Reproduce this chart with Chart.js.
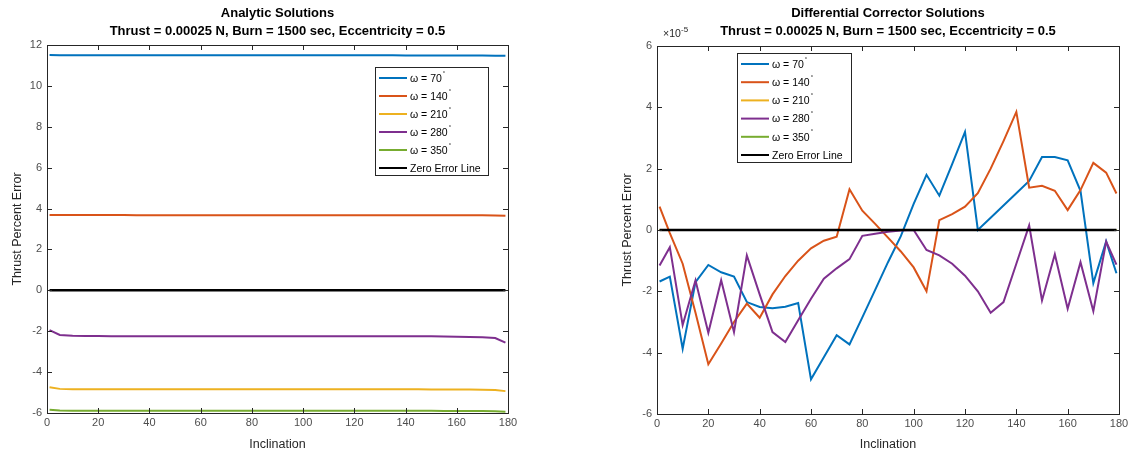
<!DOCTYPE html>
<html>
<head>
<meta charset="utf-8">
<title>Thrust Percent Error</title>
<script src="https://cdn.jsdelivr.net/npm/chart.js"></script>
<style>
  body { margin: 0; background: #fff; }
  #wrap { position: relative; width: 1135px; height: 454px; overflow: hidden; }
  canvas { position: absolute; top: 0; }
</style>
</head>
<body>
<div id="wrap">
  <canvas id="left" width="570" height="454" style="left:0"></canvas>
  <canvas id="right" width="565" height="454" style="left:570px"></canvas>
</div>
<script>
// inclination samples (deg)
const inclination = [1, 5, 10, 15, 20, 25, 30, 35, 40, 45, 50, 55, 60, 65, 70, 75, 80, 85, 90,
  95, 100, 105, 110, 115, 120, 125, 130, 135, 140, 145, 150, 155, 160, 165, 170, 175, 179];

const legendNames = ['\u03c9 = 70', '\u03c9 = 140', '\u03c9 = 210', '\u03c9 = 280', '\u03c9 = 350', 'Zero Error Line'];
const lineColors = ['#0072BD', '#D95319', '#EDB120', '#7E2F8E', '#77AC30', '#000000'];

// analytic solutions, thrust percent error
const analytic70 = [11.51, 11.50, 11.50, 11.50, 11.50, 11.50, 11.50, 11.50, 11.50, 11.50, 11.50, 11.50, 11.50,
  11.50, 11.50, 11.50, 11.50, 11.50, 11.50, 11.50, 11.50, 11.50, 11.50, 11.50, 11.50, 11.50, 11.50, 11.50,
  11.49, 11.49, 11.49, 11.49, 11.49, 11.49, 11.49, 11.48, 11.47];
const analytic140 = [3.69, 3.68, 3.68, 3.68, 3.68, 3.68, 3.68, 3.67, 3.67, 3.67, 3.67, 3.67, 3.67, 3.67,
  3.67, 3.67, 3.67, 3.67, 3.67, 3.67, 3.67, 3.67, 3.67, 3.67, 3.67, 3.67, 3.67, 3.67, 3.67, 3.67, 3.67,
  3.67, 3.67, 3.67, 3.67, 3.66, 3.65];
const analytic210 = [-4.74, -4.82, -4.84, -4.84, -4.84, -4.84, -4.84, -4.84, -4.84, -4.84, -4.84, -4.84,
  -4.84, -4.84, -4.84, -4.84, -4.84, -4.84, -4.84, -4.84, -4.84, -4.84, -4.84, -4.84, -4.84, -4.84, -4.84,
  -4.84, -4.84, -4.84, -4.85, -4.85, -4.85, -4.85, -4.86, -4.88, -4.93];
const analytic280 = [-1.95, -2.18, -2.22, -2.23, -2.23, -2.24, -2.24, -2.24, -2.24, -2.24, -2.24, -2.24,
  -2.24, -2.24, -2.24, -2.24, -2.24, -2.24, -2.24, -2.24, -2.24, -2.24, -2.24, -2.24, -2.24, -2.24, -2.24,
  -2.25, -2.25, -2.25, -2.25, -2.26, -2.27, -2.28, -2.29, -2.33, -2.56];
const analytic350 = [-5.84, -5.88, -5.89, -5.89, -5.89, -5.89, -5.89, -5.89, -5.89, -5.89, -5.89, -5.89,
  -5.89, -5.89, -5.89, -5.89, -5.89, -5.89, -5.89, -5.89, -5.89, -5.89, -5.89, -5.89, -5.89, -5.89, -5.89,
  -5.89, -5.89, -5.89, -5.89, -5.90, -5.90, -5.90, -5.90, -5.91, -5.94];
const zeroLine = [0, 0, 0, 0, 0, 0, 0, 0, 0, 0, 0, 0, 0, 0, 0, 0, 0, 0, 0, 0, 0, 0, 0, 0, 0, 0, 0, 0, 0, 0,
  0, 0, 0, 0, 0, 0, 0];

// differential corrector solutions, in units of 1e-5
const dcScale = 1e-5;
const dc70 = [-1.68, -1.52, -3.87, -1.70, -1.14, -1.38, -1.52, -2.35, -2.51, -2.55, -2.50, -2.38, -4.87,
  -4.15, -3.43, -3.73, -2.85, -1.95, -1.05, -0.20, 0.85, 1.80, 1.12, 2.15, 3.20, 0.00, 0.40, 0.80, 1.20,
  1.60, 2.38, 2.38, 2.27, 1.28, -1.73, -0.37, -1.41];
const dc140 = [0.76, -0.10, -1.10, -2.70, -4.38, -3.70, -3.00, -2.40, -2.86, -2.10, -1.50, -1.00, -0.60,
  -0.35, -0.22, 1.33, 0.63, 0.20, -0.25, -0.70, -1.22, -2.00, 0.32, 0.52, 0.76, 1.20, 2.00, 2.90, 3.85,
  1.38, 1.44, 1.28, 0.65, 1.30, 2.19, 1.87, 1.19];
const dc210 = [0, 0, 0, 0, 0, 0, 0, 0, 0, 0, 0, 0, 0, 0, 0, 0, 0, 0, 0, 0, 0, 0, 0, 0, 0, 0, 0, 0, 0, 0,
  0, 0, 0, 0, 0, 0, 0];
const dc280 = [-1.16, -0.56, -3.10, -1.64, -3.35, -1.64, -3.33, -0.83, -2.10, -3.33, -3.65, -2.94, -2.24,
  -1.59, -1.25, -0.95, -0.19, -0.12, -0.06, -0.02, 0.00, -0.65, -0.83, -1.10, -1.49, -2.00, -2.70, -2.35,
  -1.10, 0.15, -2.30, -0.79, -2.57, -1.05, -2.65, -0.38, -1.13];
const dc350 = [0, 0, 0, 0, 0, 0, 0, 0, 0, 0, 0, 0, 0, 0, 0, 0, 0, 0, 0, 0, 0, 0, 0, 0, 0, 0, 0, 0, 0, 0,
  0, 0, 0, 0, 0, 0, 0];

const xTicks = [0, 20, 40, 60, 80, 100, 120, 140, 160, 180];
const leftYTicks = [-6, -4, -2, 0, 2, 4, 6, 8, 10, 12];
const rightYTicks = [-6, -4, -2, 0, 2, 4, 6];

const subtitle = 'Thrust = 0.00025 N, Burn = 1500 sec, Eccentricity = 0.5';
const FONT = '"Liberation Sans", Arial, sans-serif';
const AXIS = '#262626';

function makeDatasets(series, scale) {
  // MATLAB draws later lines on top, so the zero line gets the lowest order
  return series.map((vals, i) => ({
    label: legendNames[i],
    data: vals.map((v, k) => ({ x: inclination[k], y: v * scale })),
    borderColor: lineColors[i],
    backgroundColor: lineColors[i],
    borderWidth: i === 5 ? 2.5 : 2,
    pointRadius: 0,
    tension: 0,
    order: 5 - i
  }));
}

// titles, box, inward ticks, axis labels and the legend, MATLAB style
const matlabDecor = {
  id: 'matlabDecor',
  afterDraw(chart, args, opts) {
    const ctx = chart.ctx;
    const a = chart.chartArea;
    const xs = chart.scales.x, ys = chart.scales.y;
    const cx = (a.left + a.right) / 2;
    ctx.save();

    // box + ticks
    ctx.strokeStyle = AXIS;
    ctx.lineWidth = 1;
    ctx.strokeRect(Math.round(a.left) + 0.5, Math.round(a.top) + 0.5,
      Math.round(a.right - a.left), Math.round(a.bottom - a.top));
    ctx.beginPath();
    xTicks.forEach(t => {
      const px = Math.round(xs.getPixelForValue(t)) + 0.5;
      ctx.moveTo(px, a.bottom); ctx.lineTo(px, a.bottom - 5);
      ctx.moveTo(px, a.top); ctx.lineTo(px, a.top + 5);
    });
    opts.yTicks.forEach(t => {
      const py = Math.round(ys.getPixelForValue(t * opts.scale)) + 0.5;
      ctx.moveTo(a.left, py); ctx.lineTo(a.left + 5, py);
      ctx.moveTo(a.right, py); ctx.lineTo(a.right - 5, py);
    });
    ctx.stroke();

    // titles
    ctx.fillStyle = '#000';
    ctx.textAlign = 'center';
    ctx.textBaseline = 'middle';
    ctx.font = 'bold 13px ' + FONT;
    ctx.fillText(opts.title, cx, 13);
    ctx.fillText(subtitle, cx, 31);

    // axis labels
    ctx.fillStyle = AXIS;
    ctx.font = '12.5px ' + FONT;
    ctx.fillText('Inclination', cx, 445);
    ctx.save();
    ctx.translate(a.left - 29, (a.top + a.bottom) / 2);
    ctx.rotate(-Math.PI / 2);
    ctx.fillText('Thrust Percent Error', 0, 0);
    ctx.restore();

    // exponent label
    if (opts.exponent) {
      ctx.font = '10.5px ' + FONT;
      ctx.textAlign = 'left';
      ctx.fillText('\u00d710', a.left + 6, a.top - 12);
      ctx.font = '8px ' + FONT;
      ctx.fillText('-5', a.left + 24, a.top - 16);
    }

    // legend
    const lg = opts.legend;
    ctx.fillStyle = '#fff';
    ctx.fillRect(lg.x, lg.y, lg.w, lg.h);
    ctx.strokeStyle = AXIS;
    ctx.lineWidth = 1;
    ctx.strokeRect(lg.x + 0.5, lg.y + 0.5, lg.w, lg.h);
    legendNames.forEach((name, i) => {
      const ry = lg.y + 11 + i * lg.step;
      ctx.strokeStyle = lineColors[i];
      ctx.lineWidth = 2;
      ctx.beginPath();
      ctx.moveTo(lg.x + 4, ry); ctx.lineTo(lg.x + 32, ry);
      ctx.stroke();
      ctx.fillStyle = '#000';
      ctx.textAlign = 'left';
      ctx.textBaseline = 'middle';
      ctx.font = '10.5px ' + FONT;
      ctx.fillText(name, lg.x + 35, ry + 1);
      if (i < 5) {
        const w = ctx.measureText(name).width;
        ctx.font = '6px ' + FONT;
        ctx.fillText('\u00b0', lg.x + 36 + w, ry - 5);
      }
    });
    ctx.restore();
  }
};

function makeChart(id, datasets, o) {
  return new Chart(document.getElementById(id), {
    type: 'line',
    data: { datasets: datasets },
    plugins: [matlabDecor],
    options: {
      responsive: false,
      animation: false,
      layout: { padding: { top: o.top, right: o.right, left: 0, bottom: 0 } },
      plugins: {
        legend: { display: false },
        tooltip: { enabled: false },
        title: { display: false },
        matlabDecor: o.decor
      },
      scales: {
        x: {
          type: 'linear', min: 0, max: 180,
          afterFit: s => { s.height = o.xHeight; },
          afterBuildTicks: s => { s.ticks = xTicks.map(v => ({ value: v })); },
          grid: { display: false, drawTicks: false },
          border: { display: false },
          ticks: { padding: 3, color: '#4d4d4d', font: { family: FONT, size: 11 }, maxRotation: 0 }
        },
        y: {
          type: 'linear', min: o.yMin, max: o.yMax,
          afterFit: s => { s.width = o.yWidth; },
          afterBuildTicks: s => { s.ticks = o.decor.yTicks.map(v => ({ value: v * o.decor.scale })); },
          grid: { display: false, drawTicks: false },
          border: { display: false },
          ticks: {
            padding: 5, color: '#4d4d4d', font: { family: FONT, size: 11 },
            callback: v => String(Math.round(v / o.decor.scale))
          }
        }
      }
    }
  });
}

makeChart('left', makeDatasets([analytic70, analytic140, analytic210, analytic280, analytic350, zeroLine], 1), {
  top: 45, right: 62, xHeight: 41, yWidth: 47, yMin: -6, yMax: 12,
  decor: {
    title: 'Analytic Solutions', yTicks: leftYTicks, scale: 1, exponent: false,
    legend: { x: 375, y: 67, w: 113, h: 108, step: 18 }
  }
});

makeChart('right', makeDatasets([dc70, dc140, dc210, dc280, dc350, zeroLine], dcScale), {
  top: 46, right: 16, xHeight: 40, yWidth: 87, yMin: -6 * dcScale, yMax: 6 * dcScale,
  decor: {
    title: 'Differential Corrector Solutions', yTicks: rightYTicks, scale: dcScale, exponent: true,
    legend: { x: 167, y: 53, w: 114, h: 109, step: 18.2 }
  }
});
</script>
</body>
</html>
